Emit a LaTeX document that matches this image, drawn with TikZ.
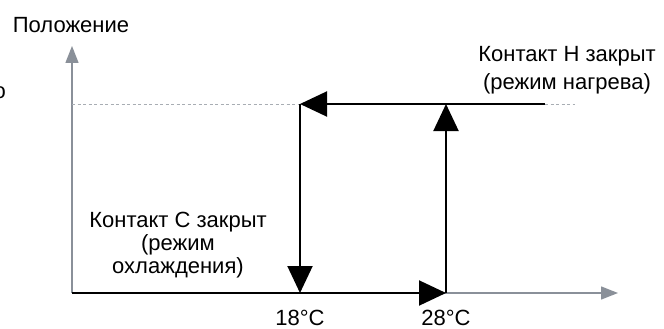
\documentclass[tikz,border=0pt]{standalone}
\usepackage{fontspec}
\setmainfont{Liberation Sans}
\usetikzlibrary{arrows.meta}
\usetikzlibrary{positioning}

\definecolor{axisgray}{HTML}{8A9099}
\definecolor{dashgray}{HTML}{A8ADB3}

\tikzset{
  axis/.style={axisgray, line width=1.4pt, -{Triangle[length=17pt,width=13pt]}},
  level/.style={dashgray, line width=0.8pt, dash pattern=on 3pt off 2.5pt},
  cycle/.style={black, line width=2pt, -{Triangle[length=27pt,width=25pt]}},
  lbl/.style={font=\fontsize{22}{23}\selectfont, inner sep=0pt, align=center}
}

\begin{document}
\begin{tikzpicture}[x=1pt, y=-1pt]
\fill[white] (0,0) rectangle (664,329);
\useasboundingbox (0,0) rectangle (664,329);

% points of the graph
\coordinate (O) at (72,293);
\coordinate (ytop) at (72,46);
\coordinate (xend) at (618,293);
\coordinate (cold) at (300,293);
\coordinate (hot) at (446,293);
\coordinate (coldtop) at (300,104);
\coordinate (hottop) at (446,104);
\coordinate (hend) at (545,104);
\coordinate (dashend) at (575,104);

% axes
\draw[axis] (O) -- (ytop);
\draw[axis] (O) -- (xend);
\draw[level] (O|-coldtop) -- (dashend);

% switching loop
\draw[cycle] (O) -- (hot);
\draw[cycle] (hot) -- (hottop);
\draw[cycle] (hend) -- (coldtop);
\draw[cycle] (coldtop) -- (cold);

% labels
\node[lbl] (pos) at (71,25) {Положение};
\node[lbl, anchor=east] (cut) at (6,93) {о};
\node[lbl, font=\fontsize{22}{28}\selectfont] (heat) at (567,70) {Контакт Н закрыт\\(режим нагрева)};
\node[lbl] (cool) at (178,245) {Контакт С закрыт\\(режим\\охлаждения)};
\node[lbl, below=17pt of cold] (t18) {18°C};
\node[lbl, below=17pt of hot] (t28) {28°C};
\end{tikzpicture}
\end{document}
